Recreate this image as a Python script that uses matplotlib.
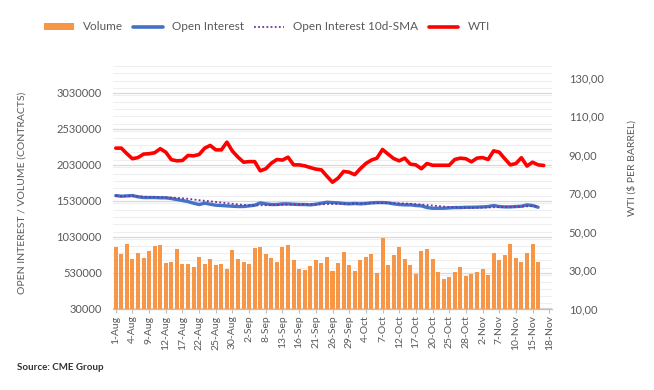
import matplotlib
matplotlib.use("Agg")
import matplotlib.pyplot as plt
from matplotlib.lines import Line2D
from matplotlib.patches import Patch
from matplotlib.ticker import MultipleLocator, FixedLocator, FuncFormatter

plt.rcParams['font.family'] = ['Lato', 'DejaVu Sans']

# trading-day categories (1-Aug .. 18-Nov)
dates = ["1-Aug","2-Aug","3-Aug","4-Aug","5-Aug","8-Aug","9-Aug","10-Aug","11-Aug","12-Aug",
         "15-Aug","16-Aug","17-Aug","18-Aug","19-Aug","22-Aug","23-Aug","24-Aug","25-Aug","26-Aug",
         "29-Aug","30-Aug","31-Aug","1-Sep","2-Sep","6-Sep","7-Sep","8-Sep","9-Sep","12-Sep",
         "13-Sep","14-Sep","15-Sep","16-Sep","19-Sep","20-Sep","21-Sep","22-Sep","23-Sep","26-Sep",
         "27-Sep","28-Sep","29-Sep","30-Sep","3-Oct","4-Oct","5-Oct","6-Oct","7-Oct","10-Oct",
         "11-Oct","12-Oct","13-Oct","14-Oct","17-Oct","18-Oct","19-Oct","20-Oct","21-Oct","24-Oct",
         "25-Oct","26-Oct","27-Oct","28-Oct","31-Oct","1-Nov","2-Nov","3-Nov","4-Nov","7-Nov",
         "8-Nov","9-Nov","10-Nov","11-Nov","14-Nov","15-Nov","16-Nov","17-Nov","18-Nov"]

volume = [890700, 788600, 927900, 723600, 802500, 737500, 830300, 900000, 914000, 663200,
          677100, 858200, 649300, 649300, 612100, 746800, 649300, 719000, 635300, 649300,
          584300, 848900, 723600, 677100, 649300, 872100, 890700, 788600, 737500, 677100,
          890700, 918600, 709700, 584300, 570400, 626100, 709700, 663200, 746800, 556400,
          663200, 821100, 640000, 556400, 709700, 746800, 793200, 528600, 1016000, 640000,
          779300, 890700, 723600, 640000, 514600, 835000, 862900, 723600, 542500, 445000,
          472800, 542500, 612100, 486800, 514600, 542500, 584300, 500700, 807100, 709700,
          779300, 932500, 737500, 681800, 807100, 932500, 681800]

open_interest = [1601000, 1591000, 1596000, 1601000, 1583000, 1573000, 1573000, 1573000, 1569000, 1569000,
                 1559000, 1545000, 1531000, 1517000, 1494000, 1476000, 1494000, 1480000, 1466000, 1462000,
                 1457000, 1452000, 1448000, 1448000, 1457000, 1466000, 1499000, 1485000, 1476000, 1476000,
                 1485000, 1485000, 1480000, 1476000, 1476000, 1471000, 1480000, 1494000, 1508000, 1503000,
                 1499000, 1490000, 1485000, 1490000, 1485000, 1490000, 1499000, 1503000, 1503000, 1499000,
                 1485000, 1476000, 1471000, 1471000, 1462000, 1457000, 1434000, 1424000, 1424000, 1424000,
                 1429000, 1434000, 1434000, 1438000, 1438000, 1440000, 1443000, 1448000, 1462000, 1448000,
                 1443000, 1443000, 1448000, 1452000, 1471000, 1462000, 1438000]

oi_sma10 = [1595000, 1593000, 1592000, 1592000, 1590000, 1585000, 1582000, 1580000, 1578000, 1576000,
            1572000, 1568000, 1562000, 1555000, 1546000, 1536000, 1528000, 1520000, 1512000, 1503000,
            1494000, 1486000, 1477000, 1470000, 1465000, 1462000, 1466000, 1467000, 1468000, 1470000,
            1472000, 1474000, 1477000, 1478000, 1478000, 1479000, 1478000, 1479000, 1482000, 1484000,
            1485000, 1486000, 1488000, 1489000, 1490000, 1492000, 1494000, 1495000, 1496000, 1496000,
            1495000, 1493000, 1490000, 1486000, 1481000, 1476000, 1469000, 1462000, 1455000, 1448000,
            1441000, 1436000, 1432000, 1430000, 1430000, 1431000, 1433000, 1435000, 1438000, 1440000,
            1442000, 1444000, 1446000, 1448000, 1451000, 1453000, 1454000]

wti = [93.3, 93.3, 90.4, 87.8, 88.4, 90.2, 90.4, 90.9, 93.0, 91.2,
       87.3, 86.7, 86.9, 89.5, 89.3, 90.0, 93.3, 94.7, 92.4, 92.4,
       96.4, 91.7, 88.6, 86.0, 86.3, 86.3, 81.5, 82.6, 85.5, 87.4,
       87.1, 88.6, 84.6, 84.6, 84.1, 83.2, 82.4, 82.0, 78.7, 75.6,
       77.7, 81.2, 80.8, 79.5, 82.6, 85.3, 87.1, 88.1, 92.6, 90.2,
       87.9, 86.7, 88.1, 85.0, 84.6, 82.6, 85.3, 84.4, 84.4, 84.4,
       84.4, 87.4, 88.1, 87.8, 86.2, 88.1, 88.4, 87.4, 91.9, 91.2,
       87.8, 84.6, 85.3, 88.3, 84.0, 86.0, 84.6, 84.3]

left_ticks = [30000, 530000, 1030000, 1530000, 2030000, 2530000, 3030000]
right_ticks = [10, 30, 50, 70, 90, 110, 130]

grey_text = '#595959'

fig = plt.figure(figsize=(6.54, 3.90), dpi=100)
ax = fig.add_axes([113/654, 1-308.5/390, (552-113)/654, (308.5-64)/390])
ax2 = ax.twinx()

xv = list(range(len(volume)))
ax.bar(xv, volume, width=0.72, color='#F79646', zorder=2)
ax.plot(range(len(open_interest)), open_interest, color='#4472C4', lw=2.4,
        solid_capstyle='round', zorder=3)
ax.plot(range(len(oi_sma10)), oi_sma10, color='#7030A0', lw=1.3, ls=(0, (1, 1.3)), zorder=4)
ax2.plot(range(len(wti)), wti, color='#FF0000', lw=2.6, solid_joinstyle='round',
         solid_capstyle='round', zorder=5)

ax.set_xlim(-0.5, len(dates) - 0.5)
ax.set_ylim(30000, 3430000)
ax2.set_ylim(10, 137)

ax.yaxis.set_major_locator(FixedLocator(left_ticks))
ax.yaxis.set_minor_locator(MultipleLocator(100000))
ax.yaxis.set_major_formatter(FuncFormatter(lambda v, p: f"{int(round(v))}"))
ax2.yaxis.set_major_locator(FixedLocator(right_ticks))
ax2.yaxis.set_major_formatter(FuncFormatter(lambda v, p: f"{v:.2f}".replace('.', ',')))

ax.grid(which='minor', axis='y', color='#efefef', lw=0.8, zorder=0)
ax.grid(which='major', axis='y', color='#d9d9d9', lw=0.9, zorder=0)
ax.set_axisbelow(True)

tick_idx = list(range(0, len(dates), 3))
ax.set_xticks(tick_idx)
ax.set_xticklabels([dates[i] for i in tick_idx], rotation=90, fontsize=7.5, color=grey_text)
ax.tick_params(axis='x', length=3, color='#bfbfbf', pad=2)
ax.tick_params(axis='y', which='both', length=0, labelsize=8, labelcolor=grey_text, pad=8)
ax2.tick_params(axis='y', which='both', length=0, labelsize=8, labelcolor=grey_text, pad=12)

for a in (ax, ax2):
    for s in ('top', 'left', 'right'):
        a.spines[s].set_visible(False)
    a.spines['bottom'].set_color('#bfbfbf')

fig.text(22/654, 1-193/390, "OPEN INTEREST / VOLUME (CONTRACTS)", rotation=90,
         ha='center', va='center', fontsize=7.5, color=grey_text)
fig.text(632/654, 1-168/390, "WTI ($ PER BARREL)", rotation=90,
         ha='center', va='center', fontsize=7.5, color=grey_text)

handles = [Patch(facecolor='#F79646', edgecolor='none'),
           Line2D([], [], color='#4472C4', lw=2.6, solid_capstyle='round'),
           Line2D([], [], color='#7030A0', lw=1.3, ls=(0, (1, 1.3))),
           Line2D([], [], color='#FF0000', lw=2.6, solid_capstyle='round')]
labels = ["Volume", "Open Interest", "Open Interest 10d-SMA", "WTI"]
leg = fig.legend(handles, labels, loc='center', bbox_to_anchor=(267/654, 1-27/390), ncol=4,
                 frameon=False, fontsize=8.5, handlelength=2.5, handleheight=0.6,
                 handletextpad=0.8, columnspacing=0.85)
for t in leg.get_texts():
    t.set_color(grey_text)

fig.text(17/654, 1-368/390, "Source: CME Group", fontsize=7, fontweight='bold',
         color='#333333', ha='left', va='center')

fig.savefig("out.png", dpi=100)
